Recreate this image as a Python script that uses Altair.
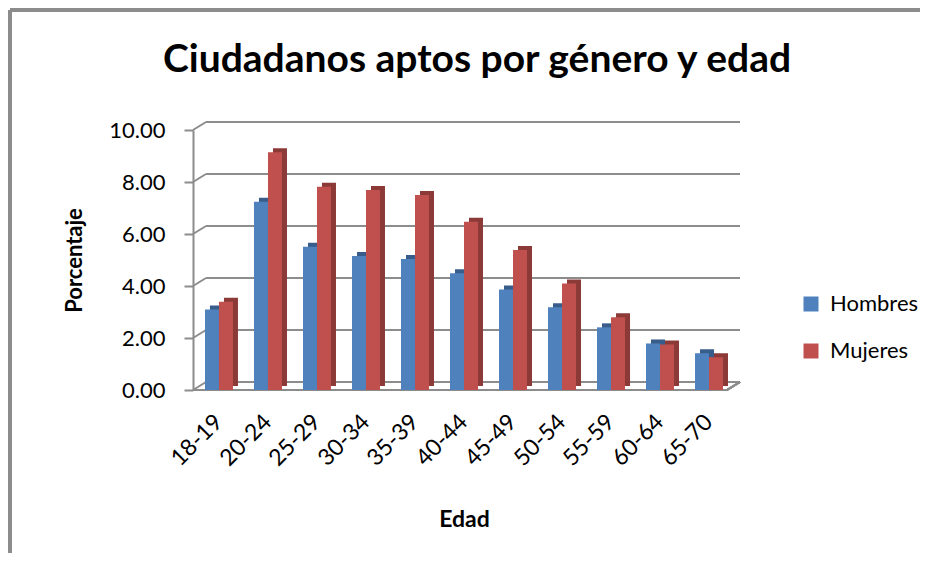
import altair as alt
import pandas as pd

edades = ["18-19", "20-24", "25-29", "30-34", "35-39", "40-44", "45-49", "50-54", "55-59", "60-64", "65-70"]
hombres = [3.10, 7.24, 5.51, 5.15, 5.04, 4.49, 3.87, 3.18, 2.41, 1.79, 1.41]
mujeres = [3.39, 9.14, 7.82, 7.69, 7.50, 6.47, 5.38, 4.10, 2.80, 1.75, 1.26]
y_ticks = [0, 2, 4, 6, 8, 10]
series = ["Hombres", "Mujeres"]
titulo = "Ciudadanos aptos por género y edad"

W, H = 542, 260
DX, DY = 13, -8
GRID = "#8c8c8c"
BLUE, RED = "#4F81BD", "#C0504D"
DBLUE, DRED = "#385D8A", "#8C3A38"
FONT = "Lato"

df = pd.DataFrame({"edad": edades, "Hombres": hombres, "Mujeres": mujeres})
grid_df = pd.DataFrame({"v": y_ticks})

xs = alt.X("edad:N", sort=edades,
           scale=alt.Scale(paddingInner=0.43, paddingOuter=0.245),
           axis=alt.Axis(title="Edad", labelAngle=-45, labelAlign="right", labelBaseline="middle",
                         labelPadding=28, labelFont=FONT, labelFontSize=23, labelColor="#000000",
                         titleFont=FONT, titleFontSize=23, titleFontWeight="bold", titleColor="#000000",
                         titlePadding=38, domain=False, ticks=False))
ys = alt.Y("valor:Q", scale=alt.Scale(domain=[0, 10]),
           axis=alt.Axis(title="Porcentaje", values=y_ticks, format=".2f", grid=False,
                         domainColor=GRID, domainWidth=2, tickColor=GRID, tickWidth=2, tickSize=9,
                         labelPadding=19, labelFont=FONT, labelFontSize=22, labelColor="#000000",
                         titleFont=FONT, titleFontSize=22, titleFontWeight="bold", titleColor="#000000",
                         titlePadding=22))

long = alt.Chart(df).transform_fold(series, as_=["genero", "valor"])

grid = alt.Chart(grid_df).mark_rule(color=GRID, strokeWidth=2, yOffset=DY).encode(
    y=alt.Y("v:Q", scale=alt.Scale(domain=[0, 10])), x=alt.value(DX), x2=alt.value(W + 5))
conn = alt.Chart(grid_df).mark_rule(color=GRID, strokeWidth=2, y2Offset=DY).encode(
    y=alt.Y("v:Q"), y2=alt.Y2("v"), x=alt.value(0), x2=alt.value(DX))
floor_front = alt.Chart(grid_df).mark_rule(color=GRID, strokeWidth=2).encode(
    y=alt.datum(0), x=alt.value(0), x2=alt.value(W - 8))
floor_right = alt.Chart(grid_df).mark_rule(color=GRID, strokeWidth=2, y2Offset=DY).encode(
    y=alt.datum(0), y2=alt.datum(0), x=alt.value(W - 8), x2=alt.value(W + 5))

def side(name, off, col):
    return long.transform_filter(alt.datum.genero == name).mark_bar(
        width=14, xOffset=off + 5, yOffset=-4, y2Offset=-4, color=col).encode(x=xs, y=ys)

def front(name, off):
    return long.transform_filter(alt.datum.genero == name).mark_bar(width=14, xOffset=off).encode(
        x=xs, y=ys,
        color=alt.Color("genero:N", scale=alt.Scale(domain=series, range=[BLUE, RED]),
                        legend=alt.Legend(title=None, orient="none", legendX=607, legendY=163,
                                          symbolType="square", symbolSize=225, symbolStrokeWidth=0,
                                          labelFont=FONT, labelFontSize=22, labelColor="#000000",
                                          rowPadding=25, labelOffset=8)))

frame_top = alt.Chart(grid_df).mark_rule(color=GRID, strokeWidth=3).encode(
    x=alt.value(-183), x2=alt.value(W + 400), y=alt.value(-120))
frame_left = alt.Chart(grid_df).mark_rule(color=GRID, strokeWidth=3).encode(
    x=alt.value(-183), y=alt.value(-120), y2=alt.value(H + 300))

title = alt.Chart(grid_df.head(1)).mark_text(
    font=FONT, fontSize=39, fontWeight="bold", color="#000000", align="center",
    baseline="alphabetic").encode(text=alt.value(titulo), x=alt.value(W / 2 + 13), y=alt.value(-58))

chart = alt.layer(
    frame_top, frame_left, grid, conn, floor_front, floor_right,
    side("Hombres", -7, DBLUE), front("Hombres", -7),
    side("Mujeres", 7, DRED), front("Mujeres", 7), title,
).properties(
    width=W, height=H,
    autosize=alt.AutoSizeParams(type="none"),
    padding={"left": 185, "top": 122, "right": 185, "bottom": 163},
).configure_view(stroke=None)

chart.save("out.html", embed_options={"renderer": "svg", "actions": False})
